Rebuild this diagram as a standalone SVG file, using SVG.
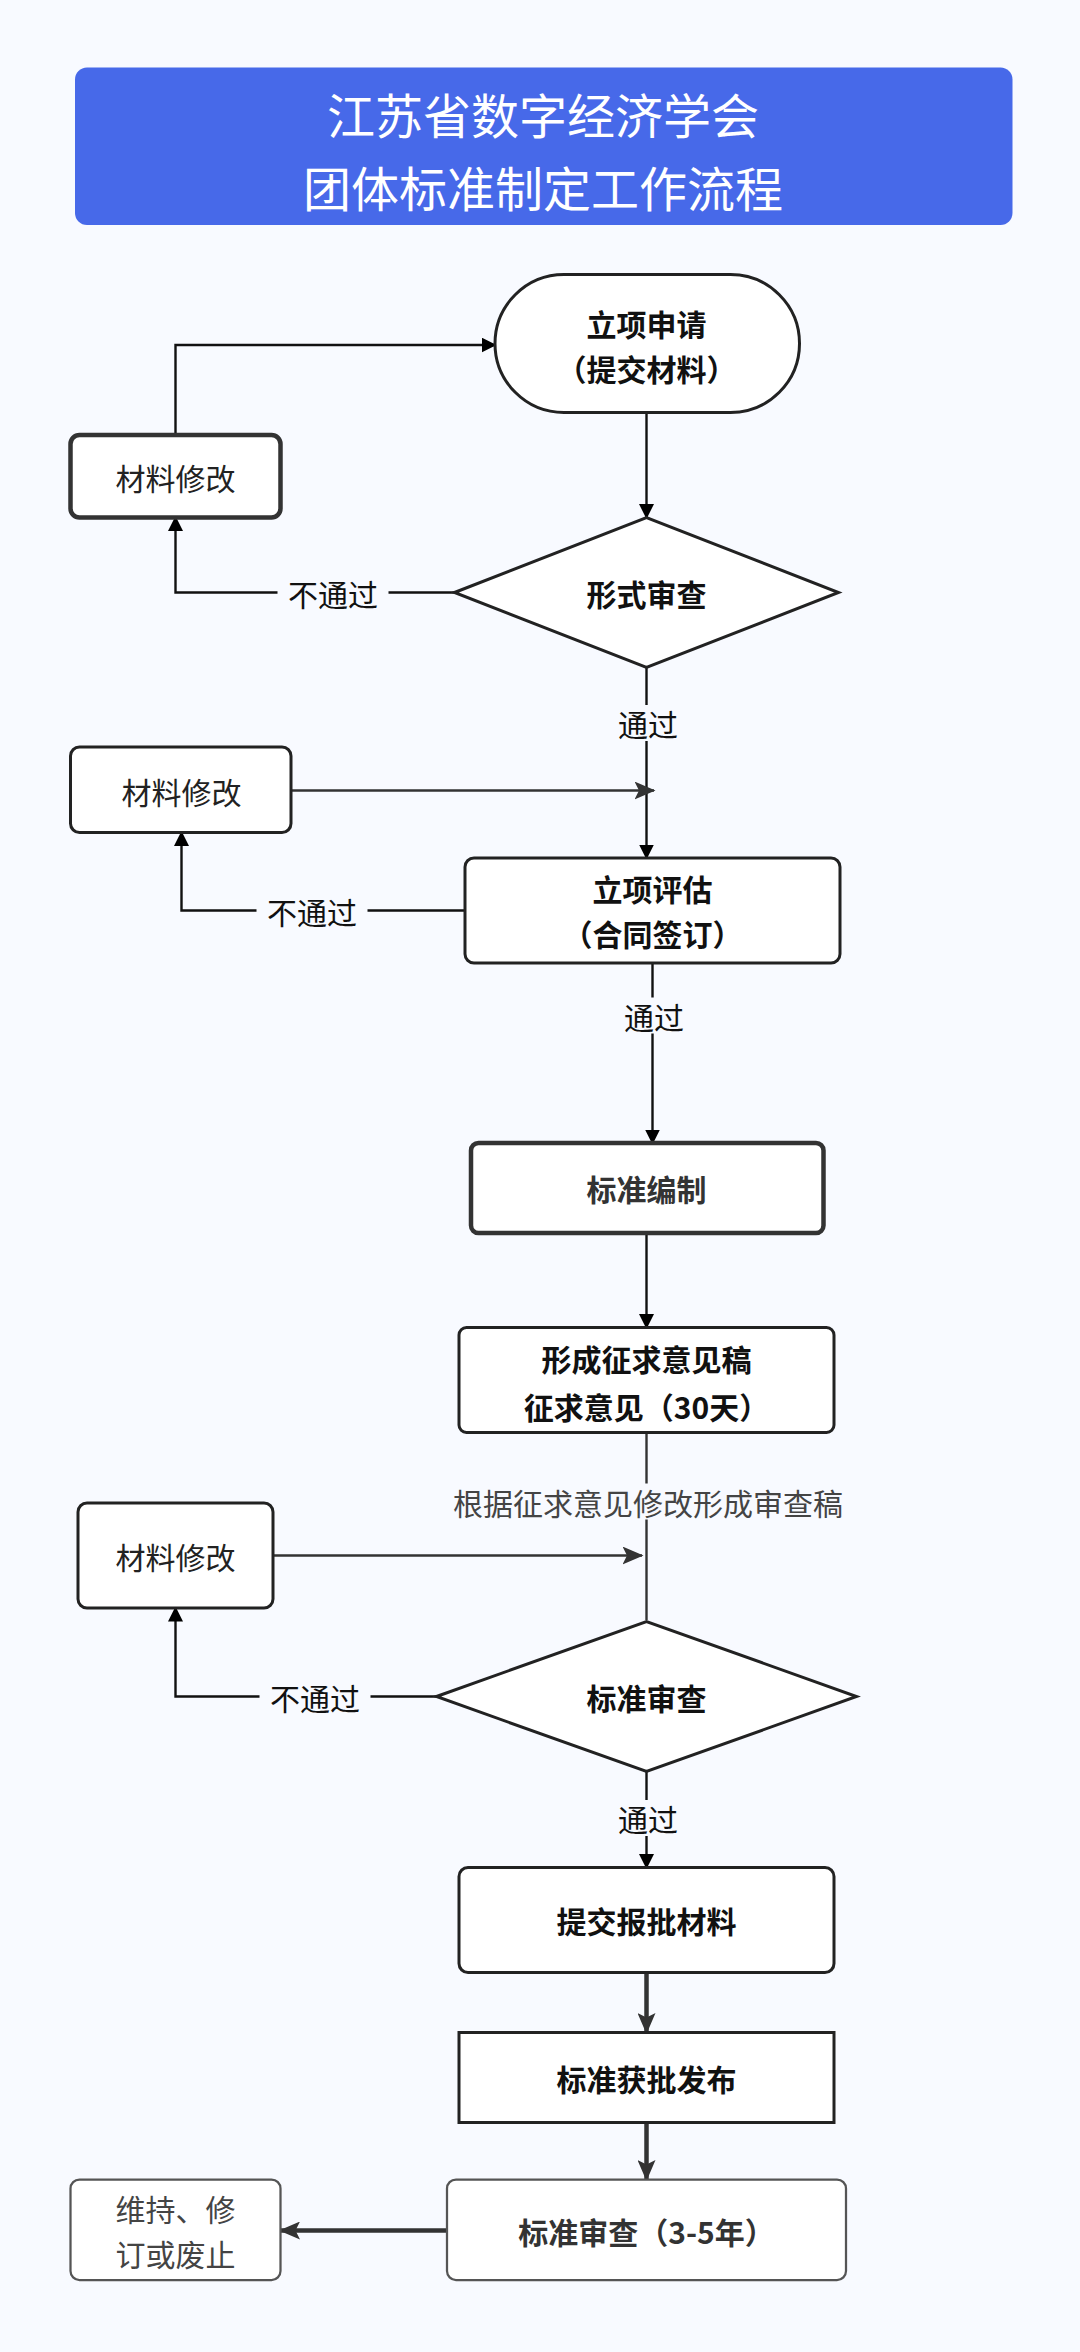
<svg xmlns="http://www.w3.org/2000/svg" width="1080" height="2352" viewBox="0 0 1080 2352">
<defs>
<marker id="a" markerWidth="10" markerHeight="10" refX="9" refY="5" orient="auto" markerUnits="userSpaceOnUse"><path d="M0,0 L10,5 L0,10 z" fill="#000"/></marker>
<marker id="g" markerWidth="14" markerHeight="12" refX="13" refY="6" orient="auto" markerUnits="userSpaceOnUse"><path d="M0,0 L14,6 L0,12 L3,6 z" fill="#333"/></marker>
<style>
text{font-family:"Noto Sans CJK SC","Noto Sans",sans-serif;text-anchor:middle;dominant-baseline:central}
.b{font-weight:bold;font-size:20px;fill:#111}
.n{font-size:20px;fill:#222}
.l{font-size:20px;fill:#111}
.s{fill:#fff;stroke:#222;stroke-width:2}
.t{fill:#fff;stroke:#333;stroke-width:3}
.c{fill:none;stroke:#111;stroke-width:1.6}
.c2{fill:none;stroke:#333;stroke-width:3}
.bg{fill:#f8faff}
</style>
</defs>
<rect width="1080" height="2352" fill="#f8faff"/>
<g transform="scale(1.5)">
<g id="title"><rect x="50" y="45" width="625" height="105" rx="8" fill="#4769e9"/>
<text x="362" y="75" style="font-size:32px;fill:#fff">江苏省数字经济学会</text>
<text x="362" y="124" style="font-size:32px;fill:#fff">团体标准制定工作流程</text></g>
<g id="connectors">
<path class="c" d="M431,275 V345" marker-end="url(#a)"/>
<path class="c" d="M303,395 H117 V345" marker-end="url(#a)"/>
<path class="c" d="M117,290 V230 H330" marker-end="url(#a)"/>
<path class="c" d="M431,445 V572" marker-end="url(#a)"/>
<path class="c" d="M194,527 H436" marker-end="url(#g)" style="stroke:#333"/>
<path class="c" d="M310,607 H121 V555" marker-end="url(#a)"/>
<path class="c" d="M435,642 V762" marker-end="url(#a)"/>
<path class="c" d="M431,822 V885" marker-end="url(#a)"/>
<path class="c" d="M431,955 V1080" style="stroke:#333"/>
<path class="c" d="M182,1037 H428" marker-end="url(#g)" style="stroke:#333"/>
<path class="c" d="M291,1131 H117 V1072" marker-end="url(#a)"/>
<path class="c" d="M431,1181 V1245" marker-end="url(#a)"/>
<path class="c2" d="M431,1315 V1355" marker-end="url(#g)"/>
<path class="c2" d="M431,1415 V1453" marker-end="url(#g)"/>
<path class="c2" d="M298,1487 H187" marker-end="url(#g)"/>
<rect class="bg" x="185" y="383" width="74" height="24"/><text class="l" x="222" y="395">不通过</text>
<rect class="bg" x="406" y="470" width="52" height="24"/><text class="l" x="432" y="482">通过</text>
<rect class="bg" x="171" y="595" width="74" height="24"/><text class="l" x="208" y="607">不通过</text>
<rect class="bg" x="410" y="665" width="52" height="24"/><text class="l" x="436" y="677">通过</text>
<rect class="bg" x="272" y="989" width="320" height="24"/><text class="l" x="432" y="1001" style="fill:#444">根据征求意见修改形成审查稿</text>
<rect class="bg" x="173" y="1119" width="74" height="24"/><text class="l" x="210" y="1131">不通过</text>
<rect class="bg" x="406" y="1200" width="52" height="24"/><text class="l" x="432" y="1212">通过</text>
</g>
<g id="n1"><rect class="s" x="330" y="183" width="203" height="92" rx="46"/><text class="b" x="431" y="215">立项申请</text><text class="b" x="431" y="245">（提交材料）</text></g>
<g id="m1"><rect class="t" x="47" y="290" width="140" height="55" rx="6"/><text class="n" x="117" y="318">材料修改</text></g>
<g id="d1"><polygon class="s" points="303,395 431,345 559,395 431,445"/><text class="b" x="431" y="395">形式审查</text></g>
<g id="m2"><rect class="s" x="47" y="498" width="147" height="57" rx="6"/><text class="n" x="121" y="527">材料修改</text></g>
<g id="n2"><rect class="s" x="310" y="572" width="250" height="70" rx="6"/><text class="b" x="435" y="592">立项评估</text><text class="b" x="435" y="622">（合同签订）</text></g>
<g id="n3"><rect class="t" x="314" y="762" width="235" height="60" rx="5"/><text class="b" x="431" y="792" style="fill:#333">标准编制</text></g>
<g id="n4"><rect class="s" x="306" y="885" width="250" height="70" rx="5"/><text class="b" x="431" y="905">形成征求意见稿</text><text class="b" x="431" y="937">征求意见（30天）</text></g>
<g id="m3"><rect class="s" x="52" y="1002" width="130" height="70" rx="6"/><text class="n" x="117" y="1037">材料修改</text></g>
<g id="d2"><polygon class="s" points="291,1131 431,1081 571,1131 431,1181"/><text class="b" x="431" y="1131">标准审查</text></g>
<g id="n5"><rect class="s" x="306" y="1245" width="250" height="70" rx="6"/><text class="b" x="431" y="1280">提交报批材料</text></g>
<g id="n6"><rect class="s" x="306" y="1355" width="250" height="60"/><text class="b" x="431" y="1385">标准获批发布</text></g>
<g id="n7"><rect class="s" x="298" y="1453" width="266" height="67" rx="6" style="stroke:#555;stroke-width:1.5"/><text class="b" x="431" y="1487" style="fill:#333">标准审查（3-5年）</text></g>
<g id="n8"><rect class="s" x="47" y="1453" width="140" height="67" rx="6" style="stroke:#555;stroke-width:1.5"/><text class="n" x="117" y="1472" style="fill:#444">维持、修</text><text class="n" x="117" y="1502" style="fill:#444">订或废止</text></g>
</g>
</svg>
